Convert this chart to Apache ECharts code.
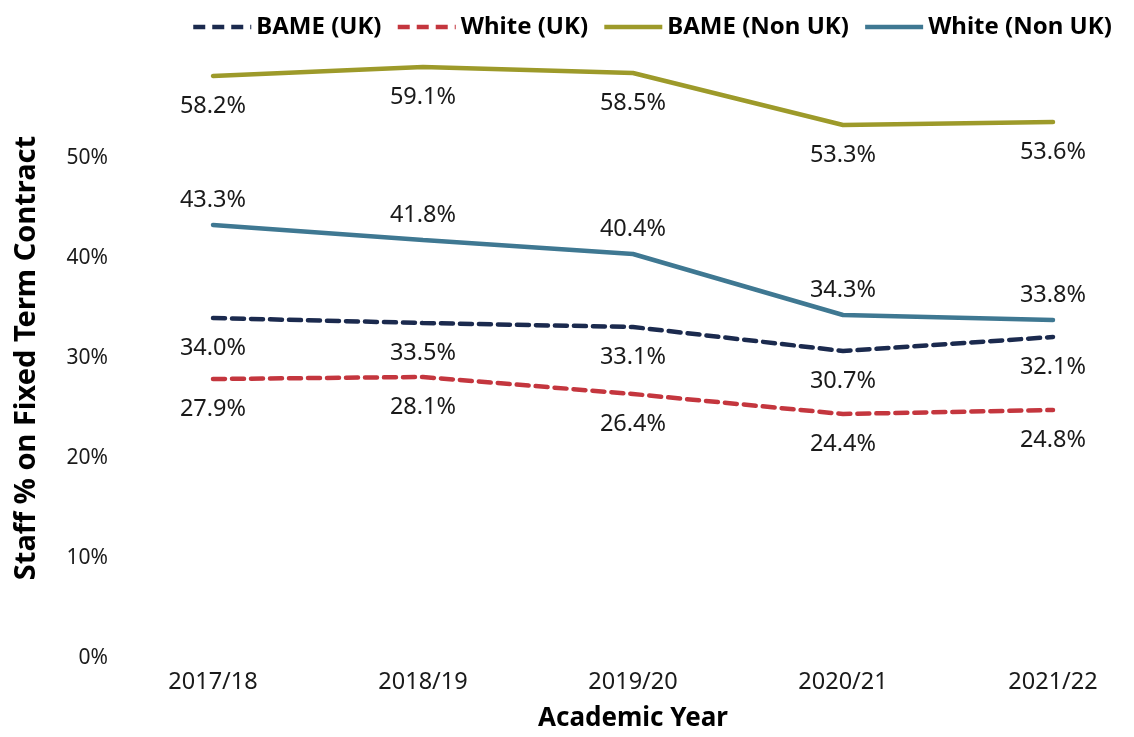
<!DOCTYPE html>
<html>
<head>
<meta charset="utf-8">
<script src="https://cdn.jsdelivr.net/npm/echarts@6/dist/echarts.min.js"></script>
<style>html,body{margin:0;padding:0;background:#fff}#c{width:1134px;height:737px}</style>
</head>
<body>
<div id="c"></div>
<script>
const categories = ['2017/18', '2018/19', '2019/20', '2020/21', '2021/22'];
const bameUK = [34.0, 33.5, 33.1, 30.7, 32.1];
const whiteUK = [27.9, 28.1, 26.4, 24.4, 24.8];
const bameNonUK = [58.2, 59.1, 58.5, 53.3, 53.6];
const whiteNonUK = [43.3, 41.8, 40.4, 34.3, 33.8];
const yTicks = [0, 10, 20, 30, 40, 50];

const font = 'Noto Sans';
const names = ['BAME (UK)', 'White (UK)', 'BAME (Non UK)', 'White (Non UK)'];
function line(name, data, color, dashed) {
  return {
    name, type: 'line', data, symbol: 'none', smooth: false, z: 2,
    lineStyle: { color, width: 4.5, type: dashed ? [12, 7] : 'solid', cap: 'round' },
    itemStyle: { color }
  };
}
function labels(name, data, pos) {
  return {
    name: name + ' labels', type: 'scatter', data, symbolSize: 2,
    silent: true, z: 3,
    itemStyle: { color: 'rgba(0,0,0,0)', opacity: 1 },
    label: {
      show: true, position: pos, distance: pos === 'top' ? 12 : 17,
      formatter: p => p.value.toFixed(1) + '%',
      fontFamily: font, fontSize: 23.5, lineHeight: 24, color: '#1a1a1a', opacity: 1
    }
  };
}
const chart = echarts.init(document.getElementById('c'));
chart.setOption({
  animation: false,
  legend: {
    data: names,
    top: 10, left: 186, itemWidth: 58, itemHeight: 14, itemGap: 14,
    itemStyle: { opacity: 0 },
    lineStyle: { width: 4.5, cap: 'butt' },
    textStyle: { fontFamily: font, fontSize: 24, fontWeight: 'bold', color: '#000' }
  },
  grid: { left: 213, right: 81, top: 58, bottom: 79 },
  xAxis: {
    type: 'category', data: categories, boundaryGap: false,
    axisLine: { show: false }, axisTick: { show: false },
    axisLabel: { fontFamily: font, fontSize: 23.5, color: '#1a1a1a', margin: 12 },
    name: 'Academic Year', nameLocation: 'middle', nameGap: 48,
    nameTextStyle: { fontFamily: font, fontSize: 26, fontWeight: 'bold', color: '#000' }
  },
  yAxis: {
    type: 'value', min: 0, max: 60, interval: 10,
    splitLine: { show: false }, axisLine: { show: false }, axisTick: { show: false },
    axisLabel: {
      fontFamily: font, fontSize: 21, color: '#1a1a1a', margin: 105,
      formatter: v => yTicks.includes(v) ? v + '%' : ''
    },
    name: 'Staff % on Fixed Term Contract', nameLocation: 'middle', nameGap: 172,
    nameTextStyle: { fontFamily: font, fontSize: 29, fontWeight: 'bold', color: '#000' }
  },
  series: [
    line(names[0], bameUK, '#1b2a4e', true),
    line(names[1], whiteUK, '#c4363e', true),
    line(names[2], bameNonUK, '#9d9a2a', false),
    line(names[3], whiteNonUK, '#3f7892', false),
    labels(names[0], bameUK, 'bottom'),
    labels(names[1], whiteUK, 'bottom'),
    labels(names[2], bameNonUK, 'bottom'),
    labels(names[3], whiteNonUK, 'top')
  ]
});
</script>
</body>
</html>
